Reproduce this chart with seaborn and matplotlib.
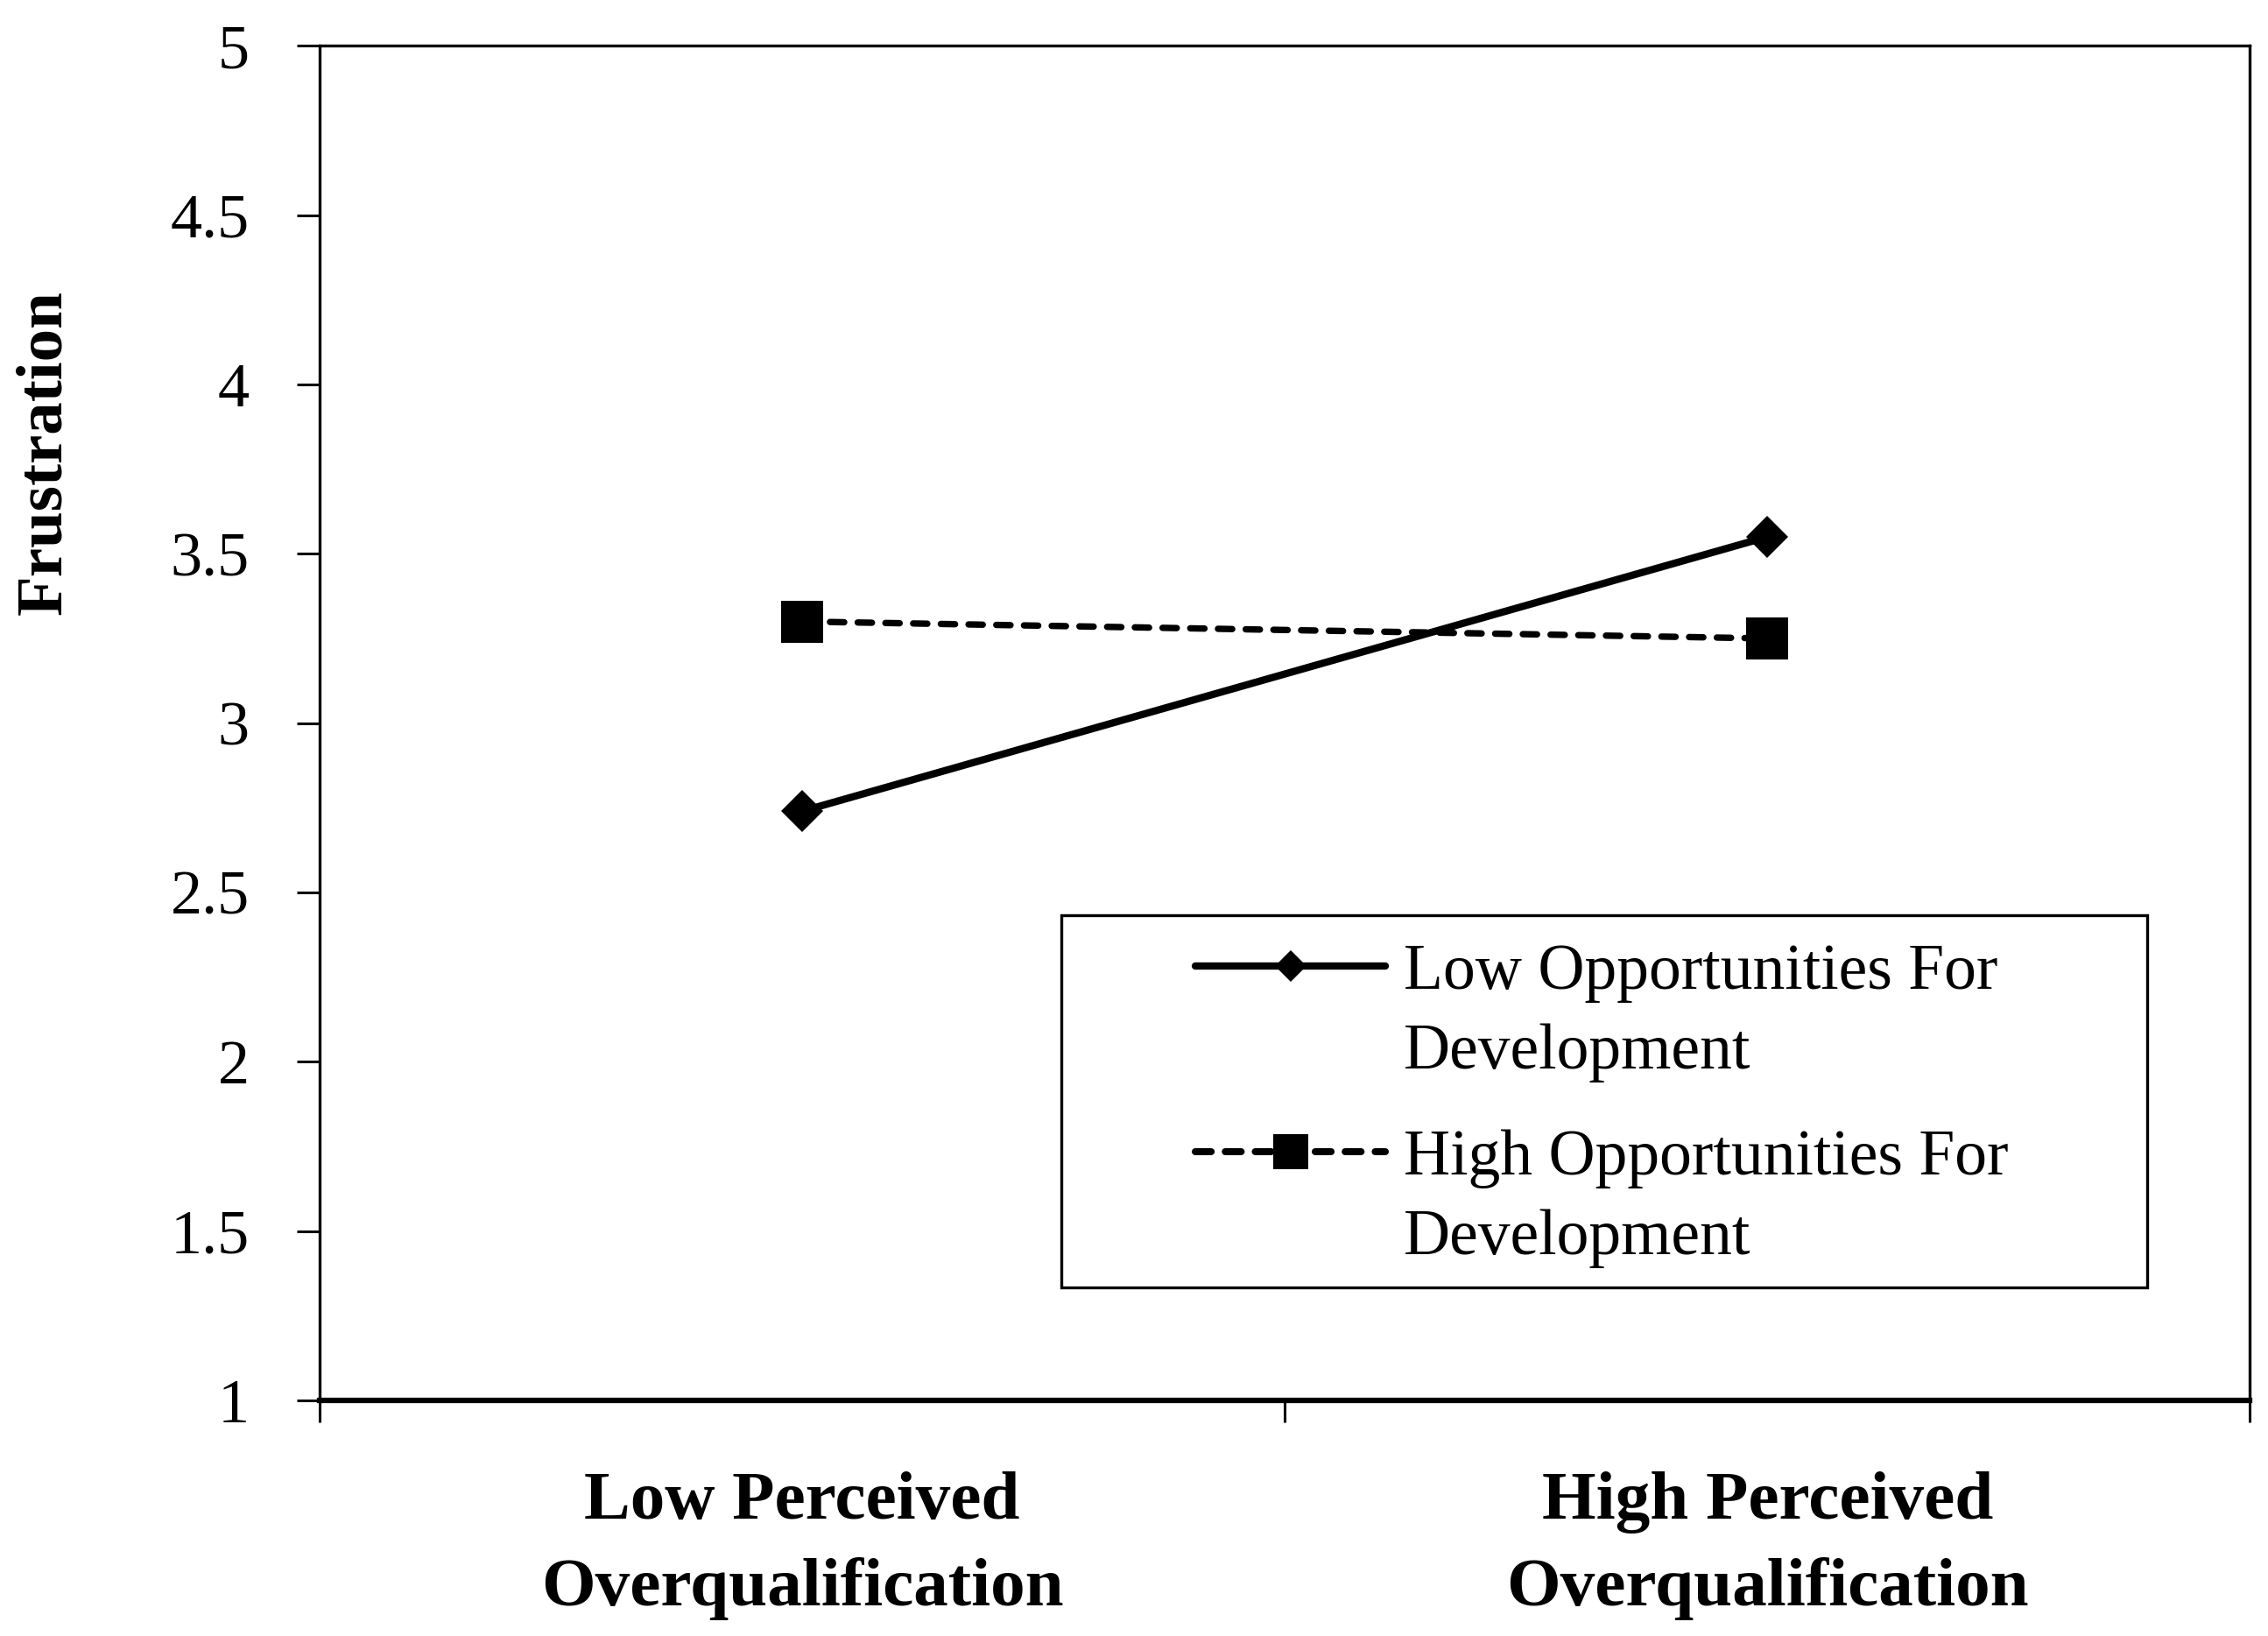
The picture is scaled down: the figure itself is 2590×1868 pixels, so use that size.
import matplotlib
matplotlib.use("Agg")
import matplotlib.pyplot as plt
import seaborn as sns
import pandas as pd
from matplotlib.ticker import FixedLocator
from matplotlib.lines import Line2D
from matplotlib.patches import Rectangle

conditions = ["Low Perceived\nOverqualification", "High Perceived\nOverqualification"]
groups = ["Low Opportunities For\nDevelopment", "High Opportunities For\nDevelopment"]
low_opp = [2.74, 3.55]
high_opp = [3.30, 3.25]
yticks = [1, 1.5, 2, 2.5, 3, 3.5, 4, 4.5, 5]
ytick_labels = ["1", "1.5", "2", "2.5", "3", "3.5", "4", "4.5", "5"]

df = pd.DataFrame({
    "cond": conditions * 2,
    "val": low_opp + high_opp,
    "group": [groups[0]] * 2 + [groups[1]] * 2,
})

sns.set_style("white")
plt.rcParams["font.family"] = ["Liberation Serif", "DejaVu Serif"]
for k in ["text.color", "axes.labelcolor", "xtick.color", "ytick.color", "axes.edgecolor"]:
    plt.rcParams[k] = "black"

fig = plt.figure(figsize=(25.9, 18.68), dpi=100)
ax = fig.add_axes([0.141, 0.144, 0.851, 0.828])

dash_pat = (2.2, 2.1)
sns.lineplot(data=df, x="cond", y="val", style="group", style_order=groups,
             markers={groups[0]: "D", groups[1]: "s"},
             dashes={groups[0]: "", groups[1]: dash_pat},
             color="black", ax=ax, sort=False, legend=False)

for line, lw, ms in zip(ax.lines, [6.0, 5.3], [24.5, 34]):
    line.set_linewidth(lw)
    line.set_markersize(ms)
    line.set_markeredgewidth(0)
    line.set_dash_capstyle("round")

ax.set_xlim(-0.5, 1.5)
ax.set_ylim(1, 5)
ax.set_yticks(yticks)
ax.set_yticklabels(ytick_labels)
ax.set_xticks([0, 1])
ax.set_xticklabels(conditions, fontweight="bold", linespacing=1.5)
ax.xaxis.set_minor_locator(FixedLocator([-0.5, 0.5, 1.5]))
ax.tick_params(axis="x", which="major", length=0, labelsize=57, pad=58)
ax.tick_params(axis="x", which="minor", length=18, width=2.2, direction="out", bottom=True)
ax.tick_params(axis="y", which="major", length=19, width=2.2, direction="out", left=True, labelsize=52, pad=39)
ax.set_xlabel("")
ax.set_ylabel("Frustration", fontweight="bold", fontsize=54)
ax.yaxis.set_label_coords(-0.127, 0.70)

for side in ["top", "right", "left"]:
    ax.spines[side].set_linewidth(2.4)
ax.spines["bottom"].set_linewidth(4.5)

# legend frame
ax.add_patch(Rectangle((0.384, 0.0834), 0.563, 0.2746, transform=ax.transAxes,
                       fill=False, edgecolor="black", linewidth=2.4, zorder=5))

blank = Line2D([], [], linestyle="none")
h_low = Line2D([], [], color="black", lw=6, marker="D", markersize=18.5, markeredgewidth=0,
               solid_capstyle="round")
h_high = Line2D([], [], color="black", lw=5.8, ls=(0, (2.25, 2.0)), marker="s", markersize=29,
                markeredgewidth=0, dash_capstyle="round")

leg_kw = dict(loc="center left", fontsize=53, frameon=False, handlelength=2.95,
              handletextpad=0.28, labelspacing=0.32, borderpad=0, borderaxespad=0)
lines_low = groups[0].split("\n")
lines_high = groups[1].split("\n")
leg1 = ax.legend([h_low, blank], lines_low, bbox_to_anchor=(0.4537, 0.286), **leg_kw)
ax.add_artist(leg1)
leg2 = ax.legend([h_high, blank], lines_high, bbox_to_anchor=(0.4537, 0.149), **leg_kw)

fig.savefig("out.png", dpi=100)
